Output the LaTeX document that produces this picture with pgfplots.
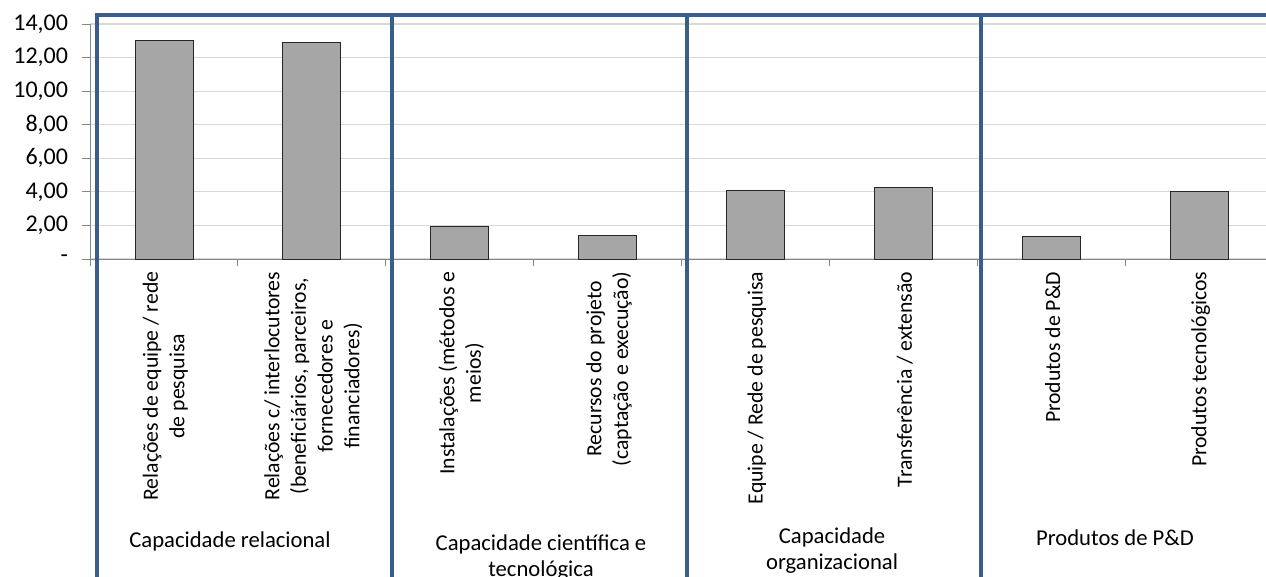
\documentclass[border=0pt]{standalone}
\usepackage{pgfplots}
\pgfplotsset{compat=1.18}
\usepackage{fontspec}
\setmainfont{Carlito}
\definecolor{excelblue}{HTML}{3A5E8C}
\definecolor{bargray}{HTML}{A6A6A6}
\definecolor{gridgray}{HTML}{D9D9D9}
\definecolor{axisgray}{HTML}{868686}
\begin{document}
\begin{tikzpicture}
\begin{axis}[
  x=110.93pt, y=12.59pt,
  xmin=-0.5, xmax=7.5, ymin=0, ymax=14,
  clip=false,
  axis x line*=bottom, axis y line*=left,
  axis line style={axisgray, line width=0.75pt},
  ytick={0,2,...,14},
  yticklabels={{-\hspace{14pt}},{2,00},{4,00},{6,00},{8,00},{10,00},{12,00},{14,00}},
  yticklabel style={font=\fontsize{18pt}{20pt}\selectfont, xshift=-7pt},
  ymajorgrids, grid style={gridgray, line width=0.9pt},
  xtick={0,...,7},
  minor xtick={-0.5,0.5,...,7.5},
  xticklabels={
    {Relações de equipe / rede\\de pesquisa},
    {Relações c/ interlocutores\\(beneficiários, parceiros,\\fornecedores e\\financiadores)},
    {Instalações (métodos e\\meios)},
    {Recursos do projeto\\(captação e execução)},
    {Equipe / Rede de pesquisa},
    {Transferência / extensão},
    {Produtos de P\&D},
    {Produtos tecnológicos}},
  xticklabel style={rotate=90, anchor=east, align=center, font=\fontsize{16.3pt}{20pt}\selectfont, yshift=-1pt},
  tick align=outside,
  major tick length=6pt,
  minor tick length=5pt,
  major x tick style={draw=none},
  minor x tick style={axisgray, line width=0.75pt},
  y tick style={axisgray, line width=0.75pt},
  ybar, bar width=43.5pt,
]
\addplot[ybar, fill=bargray, draw=black!85, line width=0.75pt] coordinates {
  (0,13.04) (1,12.88) (2,1.96) (3,1.43) (4,4.10) (5,4.27) (6,1.33) (7,4.00)};
\draw[excelblue, line width=3.6pt, line join=miter]
  (axis cs:-0.453,-18.94) -- (axis cs:-0.453,14.54) -- (axis cs:7.7,14.54);
\draw[excelblue, line width=3.6pt] (axis cs:1.542,14.54) -- (axis cs:1.542,-18.94);
\draw[excelblue, line width=3.6pt] (axis cs:3.536,14.54) -- (axis cs:3.536,-18.94);
\draw[excelblue, line width=3.6pt] (axis cs:5.524,14.54) -- (axis cs:5.524,-18.94);
\node[anchor=north, align=center, inner sep=0pt, font=\fontsize{17pt}{19pt}\selectfont]
  at (axis cs:0.446,-16.26) {Capacidade relacional};
\node[anchor=north, align=center, inner sep=0pt, font=\fontsize{17pt}{19pt}\selectfont]
  at (axis cs:2.549,-16.44) {Capacidade científica e\\tecnológica};
\node[anchor=north, align=center, inner sep=0pt, font=\fontsize{17pt}{19pt}\selectfont]
  at (axis cs:4.517,-16.02) {Capacidade\\organizacional};
\node[anchor=north, align=center, inner sep=0pt, font=\fontsize{17pt}{19pt}\selectfont]
  at (axis cs:6.43,-16.14) {Produtos de P\&D};
\coordinate (bbBL) at (axis cs:-1.109,-18.94);
\coordinate (bbTR) at (axis cs:7.451,15.43);
\end{axis}
\pgfresetboundingbox
\useasboundingbox (bbBL) rectangle (bbTR);
\end{tikzpicture}
\end{document}
